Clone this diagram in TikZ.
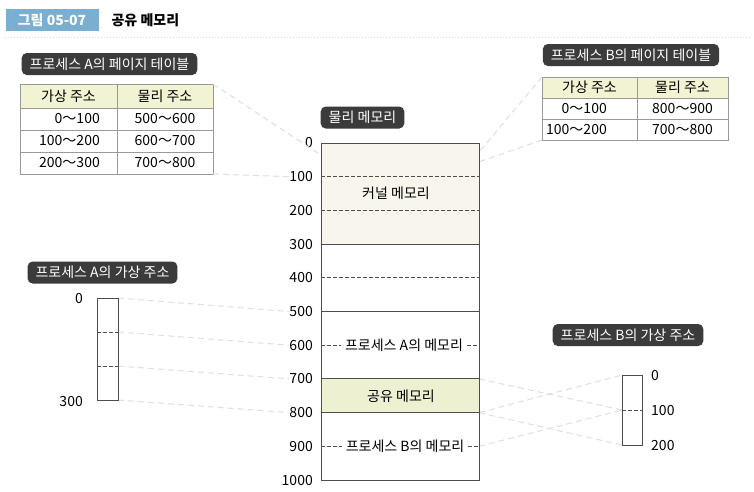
\documentclass[tikz,border=0pt]{standalone}
\usepackage{fontspec}
\setmainfont{Noto Sans CJK KR}
\usetikzlibrary{positioning}

\definecolor{tagdark}{HTML}{3B3B3B}
\definecolor{titleblue}{HTML}{7AAFD2}
\definecolor{headfill}{HTML}{F2F3D2}
\definecolor{kernfill}{HTML}{F7F5EC}
\definecolor{sharefill}{HTML}{EEF0D2}
\definecolor{linkgray}{HTML}{DADFE8}
\definecolor{memgray}{HTML}{4D4D4D}

% 주소 -> 세로 위치
\newcommand{\lv}[1]{143+0.337*#1}

\begin{document}
\begin{tikzpicture}[
    x=1pt, y=-1pt,
    every node/.style={font=\fontsize{14}{17}\selectfont},
    titlebox/.style={fill=titleblue, text=white, font=\fontsize{14}{17}\selectfont\bfseries, minimum width=93pt, minimum height=22pt},
    tag/.style={fill=tagdark, text=white, rounded corners=5pt, minimum height=22pt, inner xsep=8pt},
    cell/.style={draw=gray!80, fill=white, minimum height=22pt, inner sep=0pt, outer sep=0pt},
    head/.style={cell, fill=headfill},
    num/.style={anchor=east, inner sep=0pt},
    memline/.style={draw=memgray, line width=1pt},
    memdash/.style={draw=memgray, line width=0.8pt, dash pattern=on 3.5pt off 2.5pt},
    link/.style={draw=linkgray, line width=1pt, dash pattern=on 6pt off 4pt}
  ]

  \path[use as bounding box, fill=white] (0,0) rectangle (754,491);

  % 제목
  \node[titlebox] (fig) at (52,20) {그림 05-07};
  \node[anchor=west, font=\fontsize{14}{17}\selectfont\bfseries] (ttl) at (108,20) {공유 메모리};
  \draw[titleblue!40, line width=1pt, dotted] (5,37) -- (750,37);

  % 물리 메모리 눈금
  \foreach \v in {0,100,...,1000} {
    \node[num] (n\v) at (313,\lv{\v}) {\v};
    \coordinate (L\v) at (321,\lv{\v});
    \coordinate (R\v) at (479,\lv{\v});
  }
  \coordinate (ka) at (321,\lv{36});
  \coordinate (kb1) at (479,\lv{27});
  \coordinate (kb2) at (479,\lv{56});

  % 가상 주소 공간 모서리
  \foreach \k in {0,...,3} {
    \coordinate (aL\k) at (97,298+34*\k);
    \coordinate (aR\k) at (118,298+34*\k);
  }
  \foreach \k in {0,...,2} {
    \coordinate (bL\k) at (622,375+35*\k);
    \coordinate (bR\k) at (642,375+35*\k);
  }

  % 프로세스 A의 페이지 테이블
  \node[tag] (tagta) at (109.5,64) {프로세스 A의 페이지 테이블};
  \node[head, minimum width=97pt, minimum height=24pt] (ta-h1) at (68.5,96) {가상 주소};
  \node[head, minimum width=96pt, minimum height=24pt] (ta-h2) at (165,96) {물리 주소};
  \foreach \y/\va/\pa [count=\i] in {119/0～100/500～600, 141/100～200/600～700, 163/200～300/700～800} {
    \node[cell, minimum width=97pt] (ta-v\i) at (68.5,\y) {};
    \node[num] (ta-t\i) at (100,\y) {\va};
    \node[cell, minimum width=96pt] (ta-p\i) at (165,\y) {\pa};
  }

  % 프로세스 B의 페이지 테이블
  \node[tag] (tagtb) at (631,55) {프로세스 B의 페이지 테이블};
  \node[head, minimum width=95pt, minimum height=21pt] (tb-h1) at (589.5,87.5) {가상 주소};
  \node[head, minimum width=91pt, minimum height=21pt] (tb-h2) at (682.5,87.5) {물리 주소};
  \foreach \y/\vb/\pb [count=\i] in {108.5/0～100/800～900, 129.5/100～200/700～800} {
    \node[cell, minimum width=95pt, minimum height=21pt] (tb-v\i) at (589.5,\y) {};
    \node[num] (tb-t\i) at (607,\y) {\vb};
    \node[cell, minimum width=91pt, minimum height=21pt] (tb-p\i) at (682.5,\y) {\pb};
  }

  % 연결선
  \draw[link] (ta-h2.north east) -- (ka);
  \draw[link] (ta-p3.south east) -- (n100.west);
  \draw[link] (tb-h1.north west) -- (kb1);
  \draw[link] (tb-v2.south west) -- (kb2);
  \foreach \k/\v in {0/500, 1/600, 2/700, 3/800}
    \draw[link] (aR\k) -- (n\v.west);
  \draw[link] (R800) -- (bL0);
  \draw[link] (R900) -- (bL1);
  \draw[link] (R700) -- (bL1);
  \draw[link] (R800) -- (bL2);

  % 물리 메모리
  \node[tag] (tagpm) at (362.5,117.5) {물리 메모리};
  \fill[kernfill] (L0) rectangle (R300);
  \fill[sharefill] (L700) rectangle (R800);
  \draw[memline] (L0) rectangle (R1000);
  \foreach \v in {300,500,700,800}
    \draw[memline] (L\v) -- (R\v);
  \foreach \v in {100,200,400}
    \draw[memdash] (L\v) -- (R\v);
  \node (kern) at (396,\lv{150}) {커널 메모리};
  \node (shm) at (401,\lv{750}) {공유 메모리};
  \node[inner xsep=4pt] (pma) at (404,\lv{600}) {프로세스 A의 메모리};
  \node[inner xsep=4pt] (pmb) at (405,\lv{900}) {프로세스 B의 메모리};
  \draw[memdash] (L600) -- (pma.west);
  \draw[memdash] (pma.east) -- (R600);
  \draw[memdash] (L900) -- (pmb.west);
  \draw[memdash] (pmb.east) -- (R900);

  % 프로세스 A의 가상 주소
  \node[tag] (tagva) at (102.5,272.5) {프로세스 A의 가상 주소};
  \draw[memline] (aL0) rectangle (aR3);
  \draw[memdash] (aL1) -- (aR1);
  \draw[memdash] (aL2) -- (aR2);
  \node[num] (va0) at (83,298) {0};
  \node[num] (va3) at (83,401) {300};

  % 프로세스 B의 가상 주소
  \node[tag] (tagvb) at (628,335) {프로세스 B의 가상 주소};
  \draw[memline] (bL0) rectangle (bR2);
  \draw[memdash] (bL1) -- (bR1);
  \node[num, anchor=west] (vb0) at (651,375) {0};
  \node[num, anchor=west] (vb1) at (651,410) {100};
  \node[num, anchor=west] (vb2) at (651,445) {200};

\end{tikzpicture}
\end{document}
